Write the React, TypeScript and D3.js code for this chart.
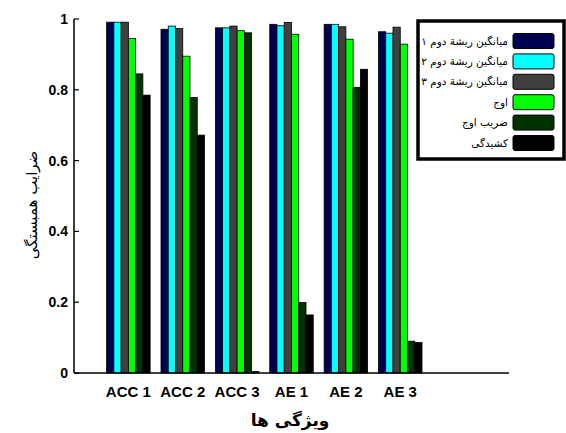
import React from "react";
import * as d3 from "d3";

const categories = ["ACC 1", "ACC 2", "ACC 3", "AE 1", "AE 2", "AE 3"];
const seriesNames = [
  "میانگین ریشة دوم ۱",
  "میانگین ریشة دوم ۲",
  "میانگین ریشة دوم ۳",
  "اوج",
  "ضریب اوج",
  "کشیدگی",
];
const seriesColors = ["#000050", "#00ffff", "#404040", "#00ff00", "#003300", "#000000"];
const rms1 = [0.991, 0.971, 0.975, 0.985, 0.985, 0.964];
const rms2 = [0.991, 0.98, 0.975, 0.981, 0.985, 0.96];
const rms3 = [0.991, 0.973, 0.98, 0.99, 0.978, 0.977];
const peak = [0.945, 0.895, 0.967, 0.957, 0.943, 0.929];
const crest = [0.845, 0.778, 0.961, 0.199, 0.807, 0.09];
const kurt = [0.785, 0.672, 0.004, 0.164, 0.858, 0.086];
const series = [rms1, rms2, rms3, peak, crest, kurt];
const yTicks = [0, 0.2, 0.4, 0.6, 0.8, 1];

export default function App() {
  const W = 566, H = 433;
  const x = d3.scaleLinear().domain([0, 8]).range([74, 509]);
  const y = d3.scaleLinear().domain([0, 1]).range([373, 19]);
  const groupW = 0.8;
  const barW = groupW / series.length;
  const font = "Arial, 'Liberation Sans', sans-serif";
  return (
    <svg width={W} height={H} style={{ position: "absolute", left: 0, top: 0, background: "#fff" }}>
      {categories.map((c, i) =>
        series.map((s, j) => {
          const x0 = x(i + 1 - groupW / 2 + j * barW);
          const x1 = x(i + 1 - groupW / 2 + (j + 1) * barW);
          return (
            <rect key={c + j} x={x0} y={y(s[i])} width={x1 - x0} height={y(0) - y(s[i])}
              fill={seriesColors[j]} stroke="#000" strokeWidth={0.8} />
          );
        })
      )}
      {/* axes */}
      <line x1={x(0)} x2={x(8)} y1={y(0)} y2={y(0)} stroke="#000" strokeWidth={1.5} />
      <line x1={x(0)} x2={x(0)} y1={y(0)} y2={y(1)} stroke="#000" strokeWidth={1.5} />
      {yTicks.map((t) => (
        <g key={t}>
          <line x1={x(0)} x2={x(0) + 5} y1={y(t)} y2={y(t)} stroke="#000" strokeWidth={1.2} />
          <text x={x(0) - 6} y={y(t)} dy="0.35em" textAnchor="end" fontFamily={font}
            fontWeight="bold" fontSize={14}>{String(t)}</text>
        </g>
      ))}
      {categories.map((c, i) => (
        <text key={c} x={x(i + 1)} y={397} textAnchor="middle" fontFamily={font}
          fontWeight="bold" fontSize={15}>{c}</text>
      ))}
      <text x={290} y={426} textAnchor="middle" fontFamily="'DejaVu Sans', sans-serif"
        fontWeight="bold" fontSize={17}>ویژگی ها</text>
      <text transform={`translate(37,${205}) rotate(-90)`} textAnchor="middle"
        fontFamily="'DejaVu Sans', sans-serif" fontSize={15}>ضرایب همبستگی</text>
      {/* legend */}
      <rect x={418} y={21} width={146} height={138} fill="#fff" stroke="#000" strokeWidth={3.5} />
      {seriesNames.map((n, j) => {
        const cy = 41 + j * 20.4;
        return (
          <g key={n}>
            <rect x={513} y={cy - 7.5} width={41} height={15} rx={2} fill={seriesColors[j]}
              stroke="#000" strokeWidth={1} />
            <text x={508} y={cy} dy="0.35em" textAnchor="end" fontFamily="'DejaVu Sans', sans-serif"
              fontSize={10.5}>{n}</text>
          </g>
        );
      })}
    </svg>
  );
}
